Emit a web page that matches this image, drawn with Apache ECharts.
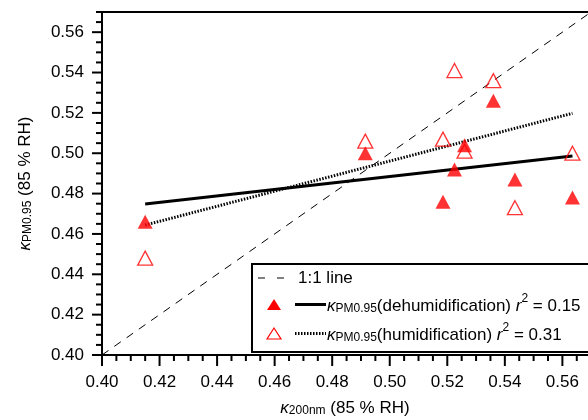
<!DOCTYPE html>
<html>
<head>
<meta charset="utf-8">
<script src="https://cdn.jsdelivr.net/npm/echarts@6/dist/echarts.min.js"></script>
<style>
  html, body { margin: 0; padding: 0; background: #fff; }
  #main { width: 588px; height: 420px; }
</style>
</head>
<body>
<div id="main"></div>
<script>
// kappa 200nm (x) and kappa PM0.95 values
var kappa200 = [0.415, 0.4915, 0.5185, 0.5225, 0.526, 0.536, 0.5435, 0.5635];
var dehumid = [0.466, 0.500, 0.476, 0.492, 0.504, 0.526, 0.487, 0.478];
var humid = [0.448, 0.506, 0.507, 0.541, 0.501, 0.536, 0.473, 0.500];

// fitted lines, end points
var fitX = [0.415, 0.5635];
var dehumidFit = [0.4748, 0.4986];
var humidFit = [0.4644, 0.5198];
var oneToOne = [0.40, 0.57];

var majorTicks = [0.40, 0.42, 0.44, 0.46, 0.48, 0.50, 0.52, 0.54, 0.56];

// the right edge of the plot is cut by the picture a bit before 0.57
var xMax = 0.5689;
var yMax = 0.57;

var FONT = "'Liberation Sans', Arial, sans-serif";

function pairs(xs, ys) {
  return xs.map(function (x, i) { return [x, ys[i]]; });
}

var myChart = echarts.init(document.getElementById("main"));

var labelStyle = { color: "#000", fontSize: 17, fontFamily: FONT };
var richName = {
  k: { fontSize: 17, fontStyle: "italic", fontFamily: FONT, color: "#000", verticalAlign: "bottom", lineHeight: 22 },
  s: { fontSize: 12, fontFamily: FONT, color: "#000", verticalAlign: "bottom", lineHeight: 18 },
  t: { fontSize: 17, fontFamily: FONT, color: "#000", verticalAlign: "bottom", lineHeight: 22 },
  r: { fontSize: 17, fontStyle: "italic", fontFamily: FONT, color: "#000", verticalAlign: "bottom", lineHeight: 22 },
  p: { fontSize: 12, fontFamily: FONT, color: "#000", verticalAlign: "top", lineHeight: 22 }
};

function fmt(v) { return v.toFixed(2); }

function mainAxis(pos, max, margin, extra) {
  return Object.assign({
    type: "value",
    position: pos,
    min: 0.40,
    max: max,
    interval: 0.02,
    axisLine: { show: true, lineStyle: { color: "#000", width: 2 } },
    axisTick: { show: false },
    axisLabel: Object.assign({ margin: margin, customValues: majorTicks, formatter: fmt }, labelStyle),
    splitLine: { show: false }
  }, extra);
}

// legend box, drawn as graphic elements
var legendItems = [
  {
    id: "lg-box", type: "rect",
    shape: { x: 252, y: 264, width: 345, height: 88 },
    style: { fill: "#fff", stroke: "#000", lineWidth: 2 },
    z: 10
  },
  {
    id: "lg-dash", type: "line",
    shape: { x1: 258, y1: 278, x2: 285, y2: 278 },
    style: { stroke: "#000", lineWidth: 1, lineDash: [7, 12] },
    z: 11
  },
  {
    id: "lg-t1", type: "text",
    x: 298, y: 278,
    style: { text: "1:1 line", fontSize: 17, fontFamily: FONT, fill: "#000", verticalAlign: "middle" },
    z: 11
  },
  {
    id: "lg-tri1", type: "polygon",
    shape: { points: [[274, 299], [281, 310], [267, 310]] },
    style: { fill: "#ff0000" },
    z: 11
  },
  {
    id: "lg-l1", type: "line",
    shape: { x1: 295, y1: 304.5, x2: 326, y2: 304.5 },
    style: { stroke: "#000", lineWidth: 3 },
    z: 11
  },
  {
    id: "lg-t2", type: "text",
    x: 327, y: 304,
    style: {
      text: "{k|κ}{s|PM0.95}{t|(dehumidification) }{r|r}{p|2}{t| = 0.15}",
      rich: richName, verticalAlign: "middle"
    },
    z: 11
  },
  {
    id: "lg-tri2", type: "polygon",
    shape: { points: [[274, 328], [281, 339], [267, 339]] },
    style: { fill: "#fff", stroke: "#ff0000", lineWidth: 1.2 },
    z: 11
  },
  {
    id: "lg-l2", type: "line",
    shape: { x1: 295, y1: 333.5, x2: 326, y2: 333.5 },
    style: { stroke: "#000", lineWidth: 3, lineDash: [1.5, 1.5] },
    z: 11
  },
  {
    id: "lg-t3", type: "text",
    x: 327, y: 333,
    style: {
      text: "{k|κ}{s|PM0.95}{t|(humidification) }{r|r}{p|2}{t| = 0.31}",
      rich: richName, verticalAlign: "middle"
    },
    z: 11
  }
];

myChart.setOption({
  animation: false,
  grid: { left: 102, right: 0, top: 12, bottom: 65, containLabel: false, outerBoundsMode: "none" },
  xAxis: [
    mainAxis("bottom", xMax, 19, {
      name: "{k|κ}{s|200nm}{t| (85 % RH)}",
      nameLocation: "middle",
      nameGap: 40,
      nameTextStyle: { rich: richName }
    }),
    // top frame line
    {
      type: "value",
      position: "top",
      min: 0.40,
      max: xMax,
      axisLine: { show: true, lineStyle: { color: "#000", width: 2 } },
      axisTick: { show: false },
      axisLabel: { show: false },
      splitLine: { show: false }
    }
  ],
  yAxis: [
    mainAxis("left", yMax, 18, {
      name: "{k|κ}{s|PM0.95}{t| (85 % RH)}",
      nameLocation: "middle",
      nameGap: 68,
      nameTextStyle: { rich: richName }
    })
  ],
  series: [
    {
      name: "1:1 line",
      type: "line",
      data: pairs(oneToOne, oneToOne),
      showSymbol: false,
      lineStyle: { color: "#000", width: 1, type: [8, 7] },
      z: 1
    },
    {
      name: "dehumidification fit",
      type: "line",
      data: pairs(fitX, dehumidFit),
      showSymbol: false,
      lineStyle: { color: "#000", width: 3 },
      z: 2
    },
    {
      name: "humidification fit",
      type: "line",
      data: pairs(fitX, humidFit),
      showSymbol: false,
      lineStyle: { color: "#000", width: 3, type: [1.5, 1.5] },
      z: 2
    },
    {
      name: "humidification",
      type: "scatter",
      data: pairs(kappa200, humid),
      symbol: "triangle",
      symbolSize: [15, 14],
      itemStyle: { color: "rgba(255,255,255,0)", borderColor: "#ff0000", borderWidth: 1.3 },
      z: 3
    },
    {
      name: "dehumidification",
      type: "scatter",
      data: pairs(kappa200, dehumid),
      symbol: "triangle",
      symbolSize: [15, 14],
      itemStyle: { color: "#ff0000" },
      z: 4
    }
  ]
});

// tick marks every 0.005, placed with the chart's own scales
var tickItems = [];
for (var i = 0; i <= 34; i++) {
  var v = +(0.40 + i * 0.005).toFixed(3);
  var major = i % 4 === 0;
  if (v <= xMax) {
    var px = myChart.convertToPixel({ xAxisIndex: 0, yAxisIndex: 0 }, [v, 0.40]);
    tickItems.push({
      id: "tx" + i, type: "line",
      shape: { x1: px[0], y1: px[1], x2: px[0], y2: px[1] + (major ? 11 : 6) },
      style: { stroke: "#000", lineWidth: 2 },
      z: 20
    });
  }
  var py = myChart.convertToPixel({ xAxisIndex: 0, yAxisIndex: 0 }, [0.40, v]);
  tickItems.push({
    id: "ty" + i, type: "line",
    shape: { x1: py[0] - (major && v < 0.565 ? 10 : 6), y1: py[1], x2: py[0], y2: py[1] },
    style: { stroke: "#000", lineWidth: 2 },
    z: 20
  });
}

myChart.setOption({ graphic: legendItems.concat(tickItems) });
</script>
</body>
</html>
